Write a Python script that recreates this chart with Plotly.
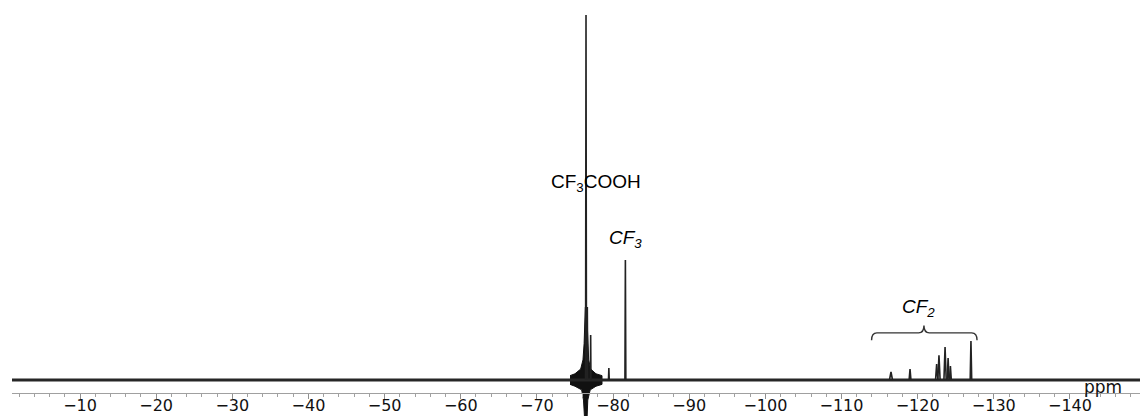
import plotly.graph_objects as go

# ---------------- data ----------------
# chemical shift axis (ppm), baseline extent
baseline_ppm = [-1.07, -149.6]
baseline_val = [0.0, 0.0]

# sharp peaks: position (ppm), height (relative, TFA = 100), half width (ppm)
peak_ppm = [-76.45, -76.62, -77.06, -79.45, -81.62,
            -116.5, -119.0, -122.5, -122.8, -123.6, -124.0, -124.3, -127.0]
peak_height = [100.0, 20.0, 12.3, 3.3, 32.9,
               2.2, 3.0, 4.4, 6.8, 9.0, 6.0, 3.8, 10.7]
peak_halfwidth = [0.06, 0.05, 0.04, 0.05, 0.06,
                  0.2, 0.12, 0.15, 0.15, 0.15, 0.12, 0.12, 0.1]

# dense base / phase wiggles around the CF3COOH signal (outline of the band)
wing_ppm = [-74.35, -75.0, -75.75, -76.05, -76.2, -76.3, -76.36,
            -76.52, -76.6, -76.7, -76.8, -77.06, -77.76, -78.55,
            -78.55, -77.76, -77.0, -76.68, -76.56, -76.3, -76.12, -75.88, -75.0, -74.35]
wing_val = [1.2, 1.7, 3.0, 5.5, 10.0, 15.0, 20.0,
            20.0, 15.0, 10.0, 5.5, 3.0, 1.7, 1.2,
            -1.2, -1.7, -2.7, -5.5, -12.0, -12.0, -5.5, -2.7, -1.7, -1.2]

# axis ticks
major_ticks = [-10, -20, -30, -40, -50, -60, -70, -80, -90, -100, -110, -120, -130, -140]
major_labels = ["\u2212" + str(abs(v)) for v in major_ticks]

# labels
label_text = ["CF<sub>3</sub>COOH", "<i>CF<sub>3</sub></i>", "<i>CF<sub>2</sub></i>"]
label_ppm = [-77.8, -81.7, -120.05]
label_val = [54.0, 38.6, 19.6]

# CF2 brace span (ppm) and level
brace_left, brace_right, brace_mid = -113.95, -127.8, -120.83
brace_end_val, brace_bar_val, brace_tip_val = 10.9, 12.9, 14.9

# ---------------- build traces ----------------
stick_x, stick_y = [], []
for p, h, w in zip(peak_ppm, peak_height, peak_halfwidth):
    stick_x += [p + w, p, p - w, None]
    stick_y += [0.0, h, 0.0, None]

fig = go.Figure()
fig.add_trace(go.Scatter(x=wing_ppm, y=wing_val, mode="lines", fill="toself",
                         fillcolor="#111111", line=dict(color="#111111", width=1),
                         hoverinfo="skip", showlegend=False))
fig.add_trace(go.Scatter(x=baseline_ppm, y=baseline_val, mode="lines",
                         line=dict(color="#262626", width=3.2),
                         hoverinfo="skip", showlegend=False))
fig.add_trace(go.Scatter(x=stick_x, y=stick_y, mode="lines",
                         line=dict(color="#222222", width=1.6),
                         connectgaps=False, hoverinfo="skip", showlegend=False))

for t, xp, yv in zip(label_text, label_ppm, label_val):
    fig.add_annotation(x=xp, y=yv, text=t, showarrow=False, xanchor="center", yanchor="middle",
                       font=dict(family="Liberation Sans, Arial", size=19, color="black"))

fig.add_annotation(x=-144.3, y=-1.9, text="ppm", showarrow=False, xanchor="center", yanchor="middle",
                   font=dict(family="DejaVu Sans", size=17, color="#111111"))

# brace path in data coordinates
q = 0.7
path = (f"M {brace_left},{brace_end_val} "
        f"Q {brace_left},{brace_bar_val} {brace_left - q},{brace_bar_val} "
        f"L {brace_mid + q},{brace_bar_val} "
        f"Q {brace_mid},{brace_bar_val} {brace_mid},{brace_tip_val} "
        f"Q {brace_mid},{brace_bar_val} {brace_mid - q},{brace_bar_val} "
        f"L {brace_right + q},{brace_bar_val} "
        f"Q {brace_right},{brace_bar_val} {brace_right},{brace_end_val}")
fig.add_shape(type="path", path=path, xref="x", yref="y",
              line=dict(color="#333333", width=1.4))

fig.update_layout(
    width=1140, height=416,
    margin=dict(l=12, r=0, t=0, b=0, autoexpand=False),
    paper_bgcolor="white", plot_bgcolor="white",
    showlegend=False,
    xaxis=dict(range=[-1.07, -149.2], anchor="free", position=0.0553,
               automargin=False,
               showgrid=False, zeroline=False,
               showline=True, linecolor="#a0a0a0", linewidth=1,
               tickmode="array", tickvals=major_ticks, ticktext=major_labels,
               ticks="outside", ticklen=5, tickcolor="#909090", tickwidth=1,
               ticklabelstandoff=-7,
               tickfont=dict(family="DejaVu Sans", size=16, color="#111111"),
               minor=dict(dtick=2, tick0=0, ticks="outside", ticklen=3,
                          tickcolor="#a0a0a0", showgrid=False)),
    yaxis=dict(range=[-9.86, 104.1], visible=False, showgrid=False, zeroline=False,
               automargin=False),
)

fig.write_html("out.html", config={"displayModeBar": False},
               post_script="document.body.style.margin='0';document.body.style.overflow='hidden';")
